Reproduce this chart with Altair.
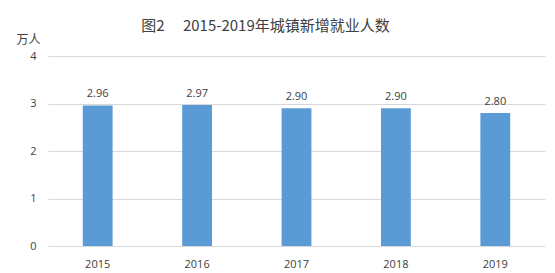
import altair as alt
import pandas as pd

years = ["2015", "2016", "2017", "2018", "2019"]
values = [2.96, 2.97, 2.90, 2.90, 2.80]
labels = ["2.96", "2.97", "2.90", "2.90", "2.80"]

df = pd.DataFrame({"year": years, "value": values, "label": labels})

num_font = "Open Sans"
cjk_font = "Noto Sans CJK SC"

x = alt.X("year:N", sort=years,
          scale=alt.Scale(paddingInner=0.7, paddingOuter=0.35),
          axis=alt.Axis(title=None, labelAngle=0, ticks=False, domain=False,
                        labelPadding=12, labelFontSize=11, labelFont=num_font,
                        labelColor="#404040", grid=False))

y = alt.Y("value:Q",
          scale=alt.Scale(domain=[0, 4]),
          axis=alt.Axis(values=[0, 1, 2, 3, 4], ticks=False, domain=False,
                        grid=True, gridColor="#D9D9D9", gridWidth=1,
                        labelPadding=12, labelFontSize=11, labelFont=num_font,
                        labelColor="#404040",
                        title="万人", titleAngle=0, titleAlign="right",
                        titleBaseline="middle", titleX=-8, titleY=-17,
                        titleFont=cjk_font, titleFontSize=12,
                        titleFontWeight="normal", titleColor="#404040"))

bars = alt.Chart(df).mark_bar(color="#5B9BD5").encode(x=x, y=y)

text = alt.Chart(df).mark_text(baseline="bottom", dy=-6, fontSize=11,
                               font=num_font, color="#404040").encode(
    x=alt.X("year:N", sort=years), y="value:Q", text="label:N")

chart = (bars + text).properties(
    width=497, height=190,
    autosize=alt.AutoSizeParams(type="none"),
    padding={"left": 48, "top": 56, "right": 10, "bottom": 27},
    title=alt.TitleParams("图2\u3000 2015-2019年城镇新增就业人数", font=cjk_font,
                          fontSize=15, fontWeight="normal", color="#404040",
                          anchor="middle", dx=-31, offset=-1),
).configure_view(stroke=None)

chart.save("out.html", embed_options={"renderer": "svg", "actions": False})
